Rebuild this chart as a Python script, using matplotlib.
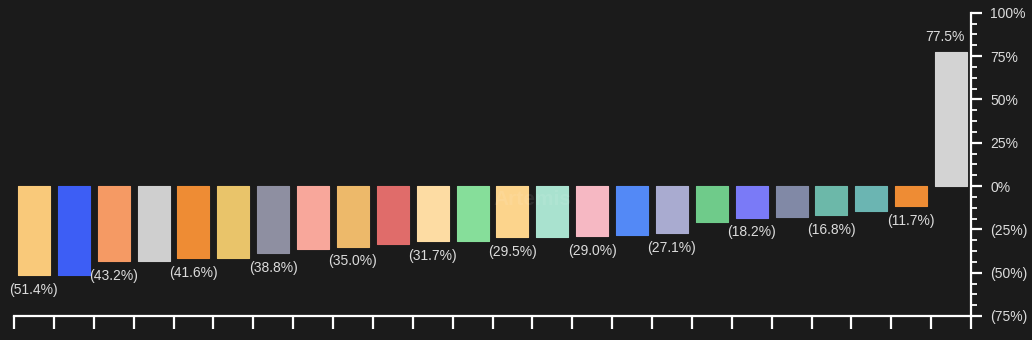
import matplotlib
matplotlib.use("Agg")
import matplotlib.pyplot as plt
from matplotlib.ticker import MultipleLocator, FuncFormatter

values = [-51.4, -51.3, -43.2, -43.1, -41.6, -41.3, -38.8, -36.3, -35.0, -33.2,
          -31.7, -31.6, -29.5, -29.2, -29.0, -28.3, -27.1, -20.7, -18.2, -18.1,
          -16.8, -14.4, -11.7, 77.5]
colors = ["#F9C97A", "#3D5EF5", "#F59A64", "#CFCFCF", "#EE8C34", "#E9C46A",
          "#8E8FA1", "#F8A79B", "#EDB96A", "#E06C6A", "#FDDCA3", "#86DE9A",
          "#FCD48C", "#A9E2CF", "#F6B8C3", "#5389F6", "#A9ABD0", "#6FCB8A",
          "#7A7AF7", "#8189A6", "#6CB8A9", "#6BB5B2", "#EE8C34", "#D3D3D3"]
labeled = [0, 2, 4, 6, 8, 10, 12, 14, 16, 18, 20, 22, 23]
yticks = [-75, -50, -25, 0, 25, 50, 75, 100]

bg = "#1B1B1B"
fg = "#DCDCDC"
plt.rcParams['font.family'] = ['Liberation Sans', 'DejaVu Sans']

fig = plt.figure(figsize=(10.32, 3.4), dpi=100, facecolor=bg)
ax = fig.add_axes([14/1032, 0.0706, (971-14)/1032, 0.9626-0.0706], facecolor=bg)

x = list(range(len(values)))
ax.bar(x, values, width=0.8, color=colors, edgecolor=colors, linewidth=0.8,
       joinstyle='round')

def fmt(v):
    return f"({abs(v):.1f}%)" if v < 0 else f"{v:.1f}%"

for i in labeled:
    v = values[i]
    if v < 0:
        ax.text(i, v - 4.5, fmt(v), ha='center', va='top', color=fg, fontsize=10)
    else:
        ax.text(i - 0.15, v + 4.5, fmt(v), ha='center', va='bottom', color=fg, fontsize=10)

ax.set_xlim(-0.5, len(values) - 0.5)
ax.set_ylim(-75, 100)

ax.yaxis.tick_right()
ax.set_yticks(yticks)
ax.yaxis.set_major_formatter(FuncFormatter(lambda v, p: f"({abs(v):.0f}%)" if v < 0 else f"{v:.0f}%"))
ax.yaxis.set_minor_locator(MultipleLocator(6.25))
ax.tick_params(axis='y', which='major', direction='out', length=8, width=1.6,
               colors='white', labelcolor=fg, labelsize=10, pad=6)
ax.tick_params(axis='y', which='minor', direction='out', length=4, width=1.3, colors='white')

ax.set_xticks([i - 0.5 for i in range(len(values) + 1)])
ax.set_xticklabels([])
ax.tick_params(axis='x', which='major', direction='out', length=9, width=1.6, colors='white')

for s in ['top', 'left']:
    ax.spines[s].set_visible(False)
ax.spines['right'].set_color('white')
ax.spines['right'].set_linewidth(1.6)
ax.spines['bottom'].set_color('white')
ax.spines['bottom'].set_linewidth(1.6)

ax.text(12.5, -2.5, "Artemis", ha='center', va='top', color='white', alpha=0.08,
        fontsize=15, fontweight='bold')

fig.savefig("out.png", dpi=100, facecolor=bg)
